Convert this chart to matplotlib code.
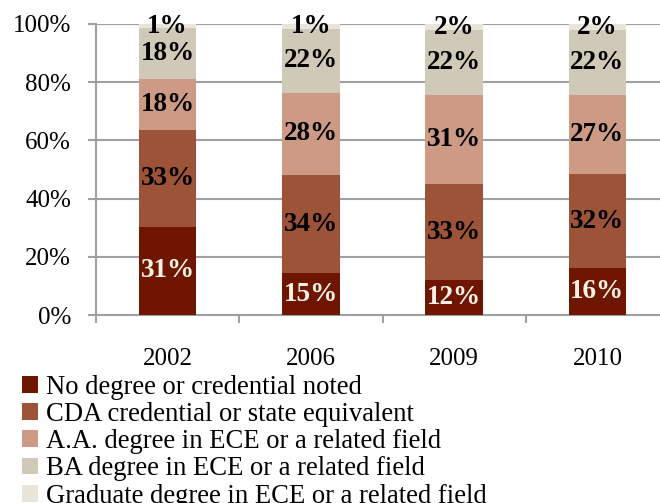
import matplotlib
matplotlib.use("Agg")
import matplotlib.pyplot as plt
import numpy as np

plt.rcParams['font.family'] = ['Liberation Serif', 'DejaVu Serif']

years = ["2002", "2006", "2009", "2010"]
series_names = [
    "No degree or credential noted",
    "CDA credential or state equivalent",
    "A.A. degree in ECE or a related field",
    "BA degree in ECE or a related field",
    "Graduate degree in ECE or a related field",
]
no_degree = [30.3, 14.4, 11.9, 16.2]
cda = [33.2, 33.7, 33.2, 32.2]
aa = [17.6, 28.3, 30.5, 27.2]
ba = [17.5, 21.8, 22.3, 22.3]
graduate = [1.4, 1.8, 2.1, 2.1]

label_no_degree = ["31%", "15%", "12%", "16%"]
label_cda = ["33%", "34%", "33%", "32%"]
label_aa = ["18%", "28%", "31%", "27%"]
label_ba = ["18%", "22%", "22%", "22%"]
label_graduate = ["1%", "1%", "2%", "2%"]

colors = ["#6E1600", "#9C5338", "#CD9A86", "#D1C9B7", "#E8E5DA"]
label_colors = ["#F5F0E8", "black", "black", "black", "black"]

values = [no_degree, cda, aa, ba, graduate]
labels = [label_no_degree, label_cda, label_aa, label_ba, label_graduate]

fig = plt.figure(figsize=(6.6, 5.03), dpi=100)
ax = fig.add_axes([96/660, 1 - 315/503, 573/660, 291/503])

x = np.arange(len(years))
bottom = np.zeros(len(years))
handles = []
for vals, labs, col, lcol, name in zip(values, labels, colors, label_colors, series_names):
    vals = np.array(vals)
    bars = ax.bar(x, vals, 0.4, bottom=bottom, color=col, label=name, zorder=3)
    handles.append(bars)
    for xi, b, v, t in zip(x, bottom, vals, labs):
        ax.text(xi, b + v / 2, t, ha='center', va='center', fontsize=19.5,
                fontweight='bold', color=lcol, zorder=4)
    bottom = bottom + vals

ax.set_xlim(-0.5, 3.5)
ax.set_ylim(0, 100)
ax.set_yticks(np.arange(0, 101, 20))
ax.set_yticklabels([f"{v}%" for v in range(0, 101, 20)], fontsize=18)
ax.yaxis.grid(True, color="#A0A0A0", linewidth=1.5, zorder=0)
ax.tick_params(axis='y', length=6, width=1.5, color="#A0A0A0", pad=12)
ax.set_xticks(x)
ax.set_xticklabels(years, fontsize=18)
ax.tick_params(axis='x', which='major', length=0, pad=24)
ax.set_xticks([-0.5, 0.5, 1.5, 2.5, 3.5], minor=True)
ax.tick_params(axis='x', which='minor', length=6, width=1.5, color="#A0A0A0")
for s in ['top', 'right']:
    ax.spines[s].set_visible(False)
for s in ['left', 'bottom']:
    ax.spines[s].set_color("#A0A0A0")
    ax.spines[s].set_linewidth(1.5)

leg = fig.legend(handles=handles, loc='upper left', bbox_to_anchor=(22/660, 1 - 375/503),
                 frameon=False, fontsize=19.2, handlelength=0.6, handleheight=0.6,
                 handletextpad=0.3, labelspacing=0.08, borderaxespad=0, borderpad=0)

fig.savefig("out.png", dpi=100)
